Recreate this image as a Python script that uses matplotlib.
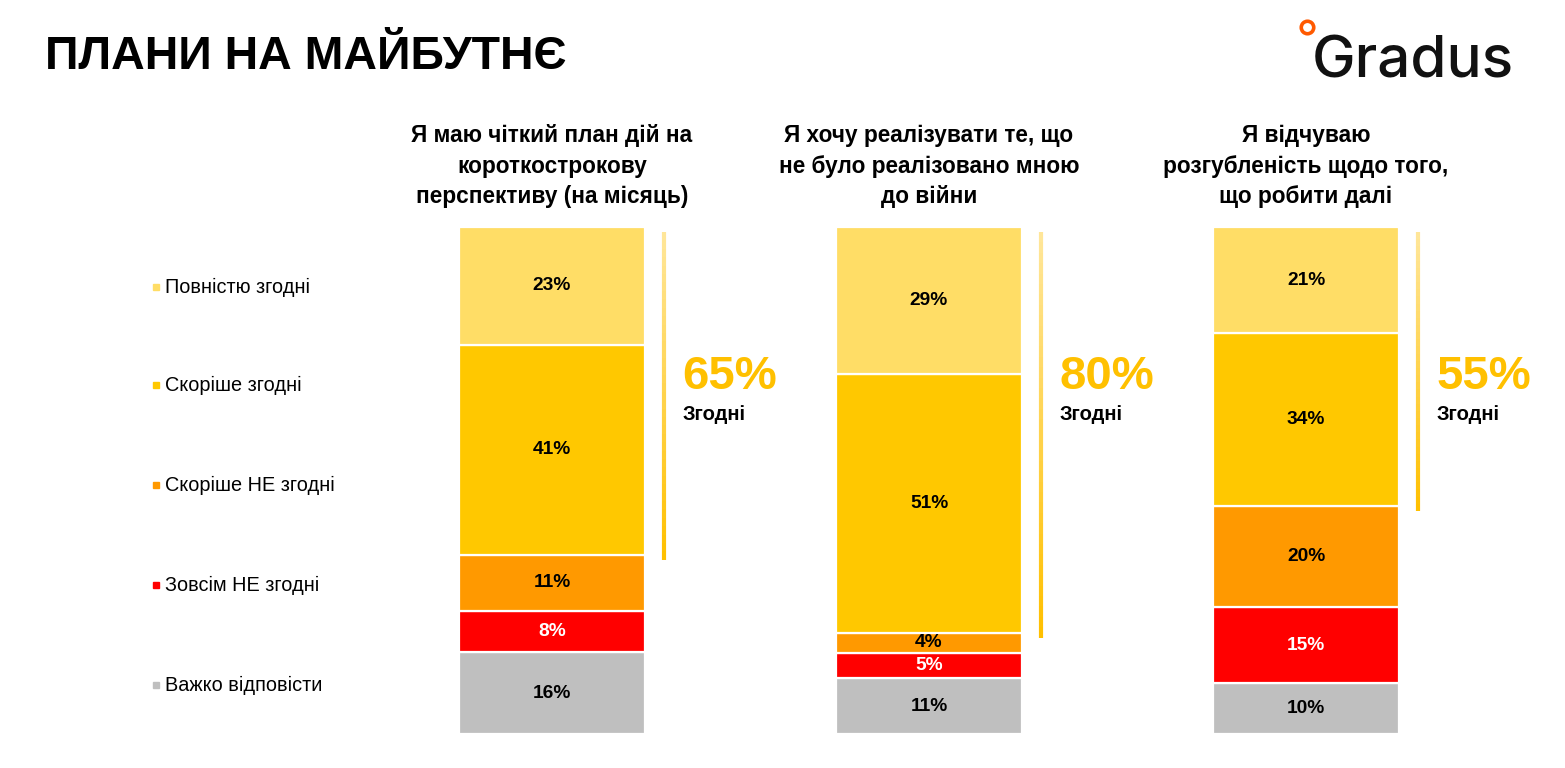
import matplotlib
matplotlib.use('Agg')
import matplotlib.pyplot as plt
import numpy as np
from matplotlib.collections import LineCollection
from matplotlib.lines import Line2D
from matplotlib.colors import LinearSegmentedColormap

plt.rcParams['font.family'] = ['Liberation Sans', 'DejaVu Sans']

# data (percent), from bottom to top of each stack
categories = ['Важко відповісти', 'Зовсім НЕ згодні', 'Скоріше НЕ згодні',
              'Скоріше згодні', 'Повністю згодні']
hard = [16, 11, 10]
fully_disagree = [8, 5, 15]
rather_disagree = [11, 4, 20]
rather_agree = [41, 51, 34]
fully_agree = [23, 29, 21]
agree_total = [65, 80, 55]
questions = ['Я маю чіткий план дій на\nкороткострокову\nперспективу (на місяць)',
             'Я хочу реалізувати те, що\nне було реалізовано мною\nдо війни',
             'Я відчуваю\nрозгубленість щодо того,\nщо робити далі']
colors = ['#BFBFBF', '#FF0000', '#FF9900', '#FFC800', '#FFDD66']
label_colors = ['black', 'white', 'black', 'black', 'black']

series = np.array([hard, fully_disagree, rather_disagree, rather_agree, fully_agree], dtype=float)
shares = series / series.sum(axis=0) * 100  # stacks are drawn to full height

W, H = 1565, 768
fig = plt.figure(figsize=(W / 100, H / 100), dpi=100)

# main bar axes
ax = fig.add_axes([459 / W, 34 / H, 940 / W, 507 / H])
x = np.arange(len(questions))
width = 0.493
bottom = np.zeros(len(questions))
for k in range(len(categories)):
    ax.bar(x, shares[k], width, bottom=bottom, color=colors[k],
           edgecolor='white', linewidth=1.6)
    for i in range(len(x)):
        ax.text(x[i], bottom[i] + shares[k][i] / 2, f'{int(series[k][i])}%',
                ha='center', va='center', fontsize=13.8, fontweight='bold',
                color=label_colors[k])
    bottom += shares[k]

ax.set_xlim(-width / 2, len(x) - 1 + width / 2)
ax.set_ylim(0, 100)
ax.axis('off')

# agree bracket lines with a soft gradient, and totals
grad = LinearSegmentedColormap.from_list('g', ['#FFE699', '#FFC000'])
agree_bottom = shares[0] + shares[1] + shares[2]
for i in range(len(x)):
    lx = x[i] + width / 2 + 0.05
    ys = np.linspace(99, agree_bottom[i] - 1, 40)
    segs = [[(lx, ys[j]), (lx, ys[j + 1])] for j in range(len(ys) - 1)]
    cols = grad(np.linspace(0, 1, len(segs)))
    ax.add_collection(LineCollection(segs, colors=cols, linewidths=3, clip_on=False))
    ax.text(x[i] + width / 2 + 0.1, 70.4, f'{agree_total[i]}%', ha='left', va='center',
            fontsize=34, fontweight='bold', color='#FFC000', clip_on=False)
    ax.text(x[i] + width / 2 + 0.1, 63.0, 'Згодні', ha='left', va='center',
            fontsize=14.5, fontweight='bold', color='black', clip_on=False)
    # question title
    fig.text((459 + 93 + 377 * i) / W, 1 - 166 / H, questions[i], ha='center',
             va='center', fontsize=16.3, fontweight='bold', linespacing=1.4)

# legend on the left, top to bottom
leg_y = [287, 385, 485, 585, 685]
for k, name in enumerate(reversed(categories)):
    c = colors[len(categories) - 1 - k]
    fig.add_artist(Line2D([156 / W], [1 - leg_y[k] / H], marker='s', markersize=5,
                          color=c, linestyle='none', transform=fig.transFigure))
    fig.text(165 / W, 1 - leg_y[k] / H, name, ha='left', va='center', fontsize=14.3)

# title and logo
fig.text(45 / W, 1 - 57 / H, 'ПЛАНИ НА МАЙБУТНЄ', ha='left', va='center',
         fontsize=33.5, fontweight='bold')
fig.text(1312 / W, 1 - 77 / H, 'Gradus', ha='left', va='baseline',
         fontsize=42, family='Inter', fontweight='medium', color='#111111')
fig.add_artist(Line2D([1307 / W], [1 - 27 / H], marker='o', markersize=9,
                      markerfacecolor='white', markeredgecolor='#FF5A00',
                      markeredgewidth=2.6, linestyle='none', transform=fig.transFigure))

fig.savefig('out.png', dpi=100)
